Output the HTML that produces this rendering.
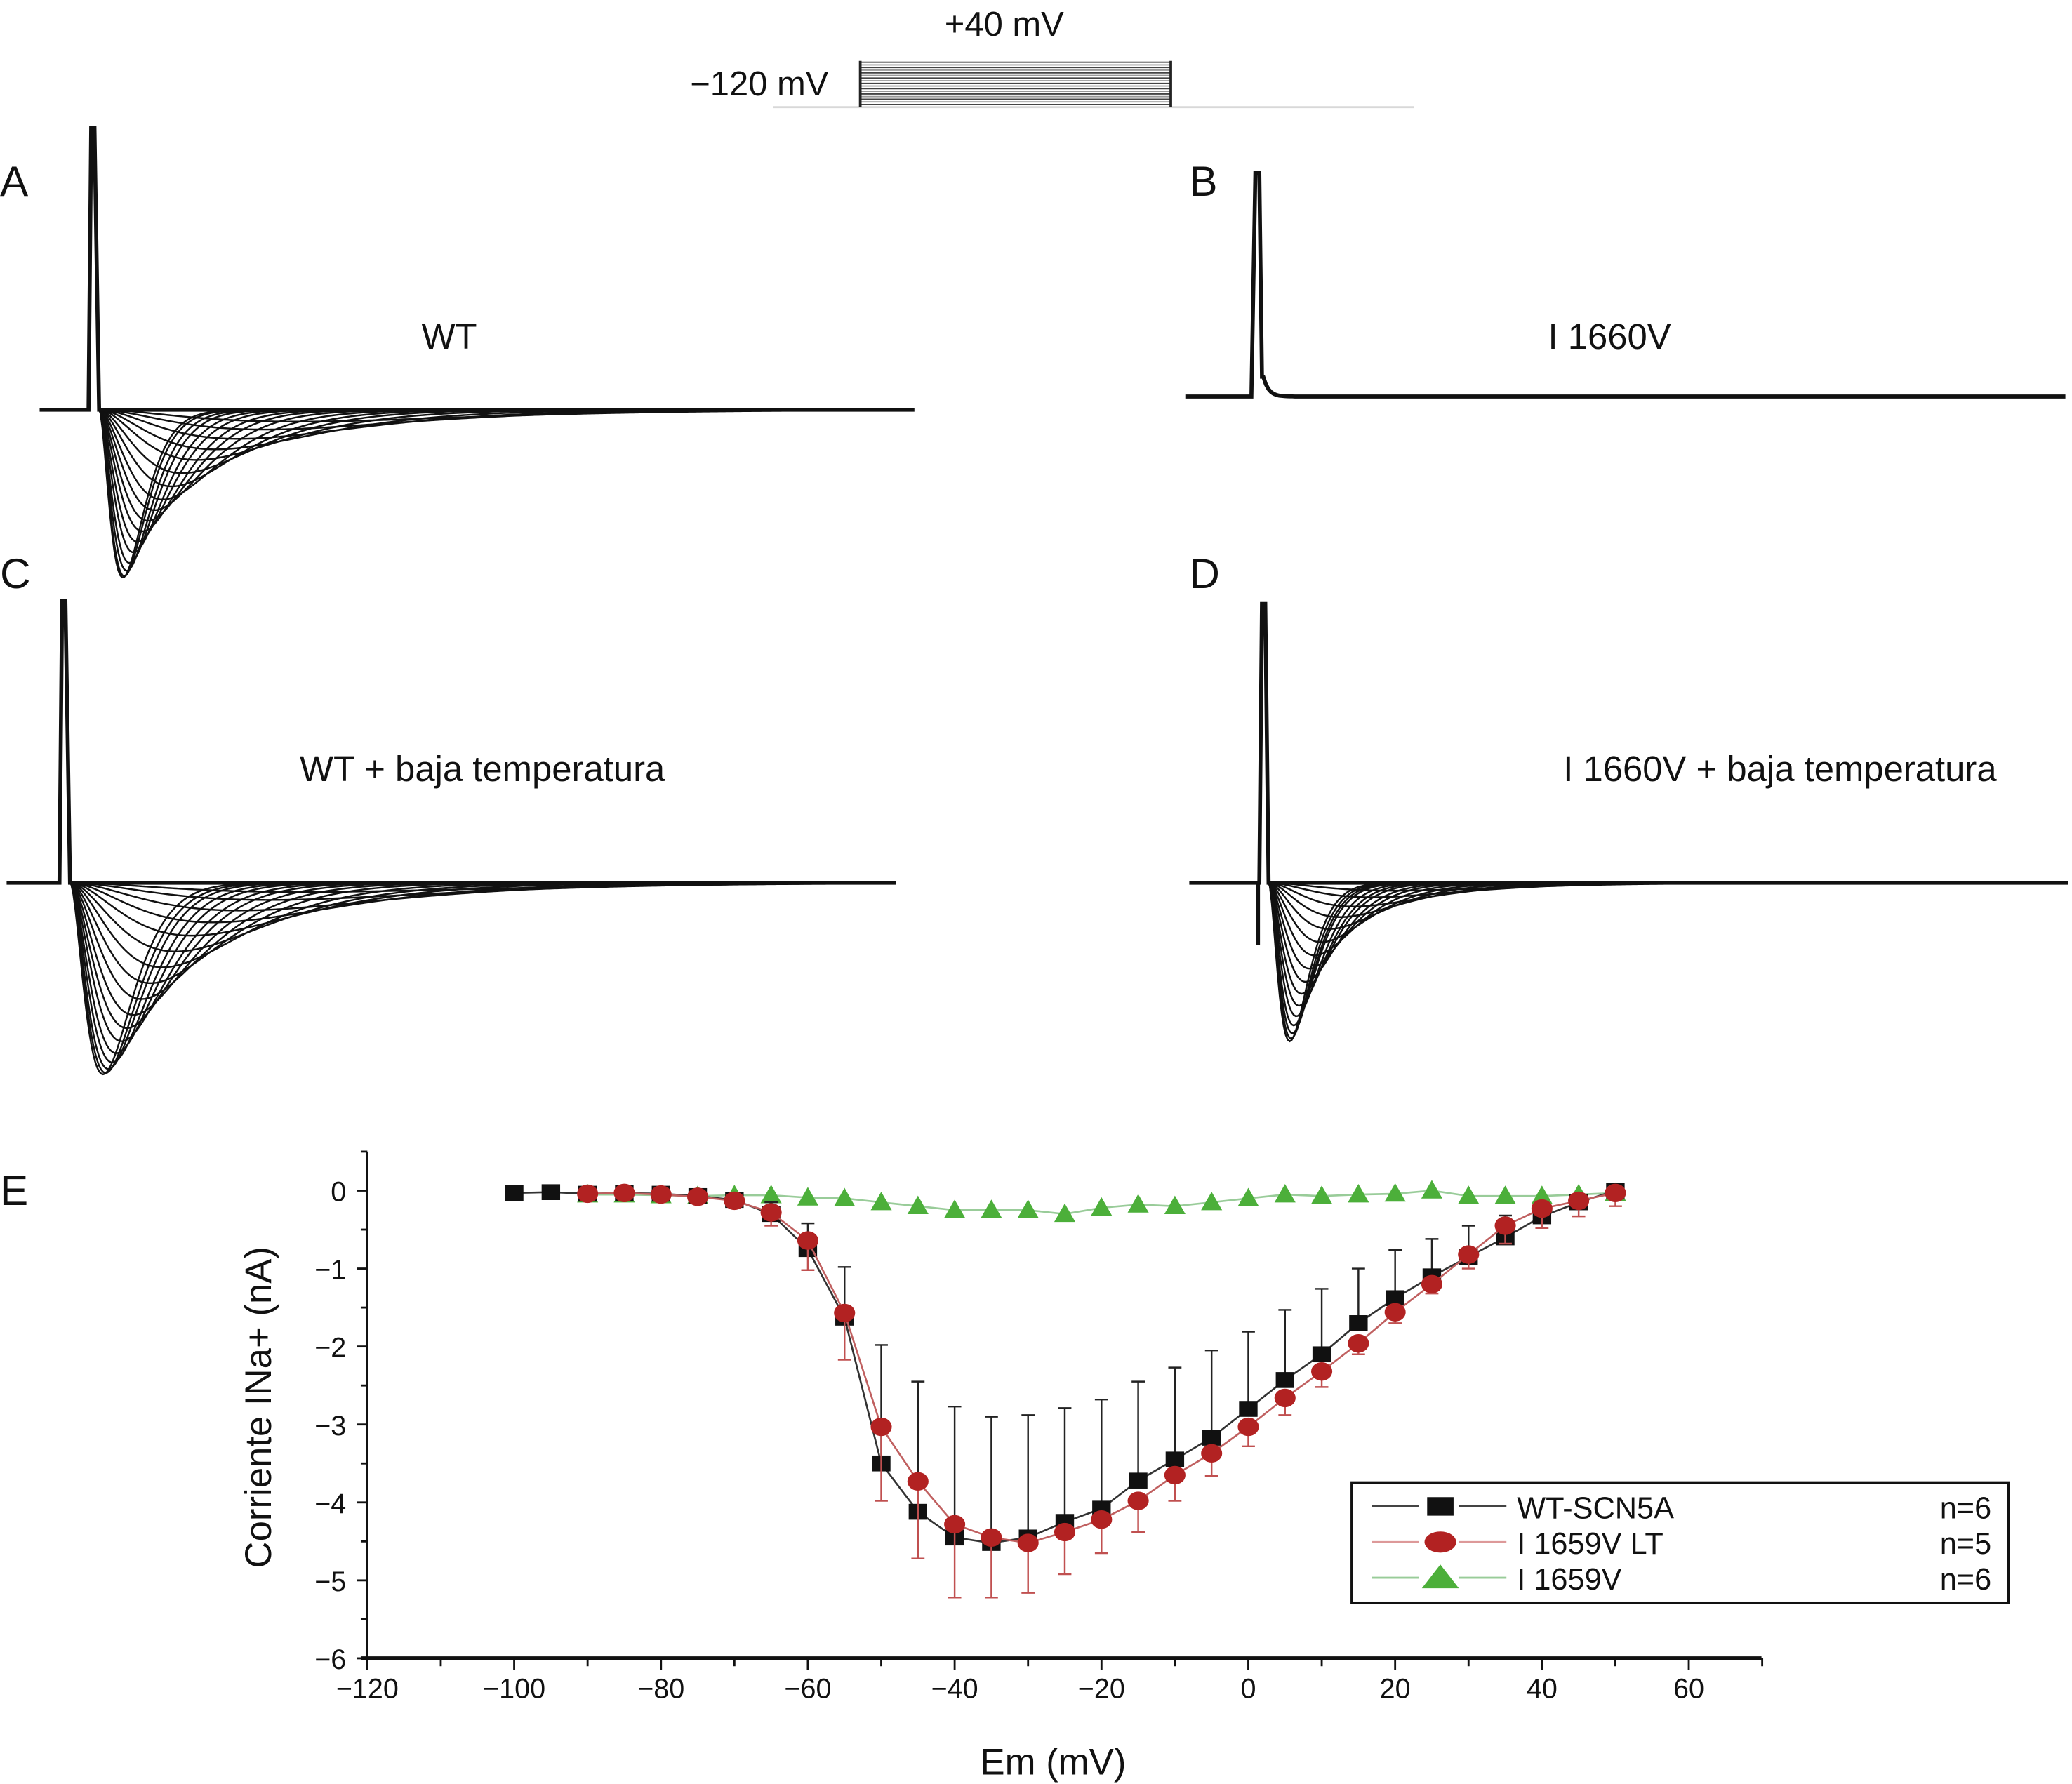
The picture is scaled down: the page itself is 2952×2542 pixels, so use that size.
<!DOCTYPE html>
<html><head><meta charset="utf-8"><style>
html,body{margin:0;padding:0;background:#fff;}
svg{display:block;}
text{font-family:"Liberation Sans",sans-serif;fill:#111;}
</style></head><body>
<svg id="fig" width="2952" height="2542" viewBox="0 0 1568 1350" xmlns="http://www.w3.org/2000/svg">
<rect width="1568" height="1350" fill="#fff"/>
<g id="protocol"></g>
<text x="760" y="27" font-size="26" text-anchor="middle">+40 mV</text>
<text x="627" y="72" font-size="26" text-anchor="end">−120 mV</text>
<g id="traces"></g>
<text x="0" y="148" font-size="32">A</text>
<text x="900" y="148" font-size="32">B</text>
<text x="0" y="445" font-size="32">C</text>
<text x="900" y="445" font-size="32">D</text>
<text x="0" y="912" font-size="32">E</text>
<text x="340" y="264" font-size="27" text-anchor="middle">WT</text>
<text x="1218" y="264" font-size="27" text-anchor="middle">I 1660V</text>
<text x="365" y="591" font-size="27" text-anchor="middle">WT + baja temperatura</text>
<text x="1347" y="591" font-size="27" text-anchor="middle">I 1660V + baja temperatura</text>
<g id="chartE"></g>
</svg>
<script>
// ---- IV curve data (panel E) ----
const voltagesWT = [-100,-95,-90,-85,-80,-75,-70,-65,-60,-55,-50,-45,-40,-35,-30,-25,-20,-15,-10,-5,0,5,10,15,20,25,30,35,40,45,50];
const currentWT = [-0.03,-0.02,-0.04,-0.03,-0.04,-0.07,-0.12,-0.3,-0.75,-1.63,-3.5,-4.12,-4.45,-4.52,-4.45,-4.25,-4.08,-3.72,-3.45,-3.17,-2.8,-2.43,-2.1,-1.7,-1.38,-1.1,-0.85,-0.6,-0.33,-0.15,0.0];
const errWT = [0,0,0,0,0,0,0.03,0.15,0.33,0.65,1.52,1.67,1.68,1.62,1.57,1.46,1.4,1.27,1.18,1.12,0.99,0.9,0.84,0.7,0.62,0.48,0.4,0.28,0.15,0.05,0];
const voltagesLT = [-90,-85,-80,-75,-70,-65,-60,-55,-50,-45,-40,-35,-30,-25,-20,-15,-10,-5,0,5,10,15,20,25,30,35,40,45,50];
const currentLT = [-0.04,-0.03,-0.05,-0.08,-0.13,-0.28,-0.64,-1.57,-3.03,-3.73,-4.28,-4.45,-4.52,-4.38,-4.22,-3.98,-3.65,-3.37,-3.03,-2.66,-2.32,-1.96,-1.56,-1.2,-0.82,-0.45,-0.23,-0.13,-0.03];
const errLT = [0.02,0.02,0.03,0.04,0.06,0.17,0.38,0.6,0.95,0.99,0.94,0.77,0.64,0.54,0.43,0.4,0.33,0.29,0.25,0.22,0.2,0.14,0.14,0.12,0.18,0.23,0.25,0.2,0.17];
const voltagesMut = [-90,-85,-80,-75,-70,-65,-60,-55,-50,-45,-40,-35,-30,-25,-20,-15,-10,-5,0,5,10,15,20,25,30,35,40,45,50];
const currentMut = [-0.05,-0.05,-0.06,-0.07,-0.06,-0.06,-0.09,-0.1,-0.15,-0.2,-0.25,-0.25,-0.25,-0.3,-0.22,-0.18,-0.2,-0.15,-0.1,-0.05,-0.07,-0.05,-0.04,0.0,-0.07,-0.07,-0.07,-0.05,-0.03];
const xTicks = [-120,-100,-80,-60,-40,-20,0,20,40,60];
const yTicks = [0,-1,-2,-3,-4,-5,-6];
const yTickLabels = ["0","−1","−2","−3","−4","−5","−6"];
const legendLabels = ["WT-SCN5A","I 1659V LT","I 1659V"];
const legendN = ["n=6","n=5","n=6"];

// ---- trace families (peak depth, time to peak) ----
const depthA = [127,126,122,116,108,100,92,84,76,68,58,48,38,30,22,15,9];
const tpeakA = [18,19,21,23,26,29,33,37,42,48,55,63,74,88,105,125,150];
const depthC = [145,144,141,136,129,120,110,100,88,76,64,52,40,30,21,13,7];
const tpeakC = [25,27,29,32,35,39,43,48,54,61,70,80,92,108,128,150,175];
const depthD = [120,118,114,108,101,93,84,75,65,55,45,35,26,18,11,6];
const tpeakD = [16,17,18,19,21,23,25,28,31,35,40,46,54,64,78,95];

const NS='http://www.w3.org/2000/svg';
function mk(tag, attrs, parent){const e=document.createElementNS(NS,tag);for(const k in attrs)e.setAttribute(k,attrs[k]);parent.appendChild(e);return e;}

// protocol
const P=document.getElementById('protocol');
const pl=mk('line',{x1:585,y1:81,x2:1070,y2:81,stroke:'#d8d8d8','stroke-width':1.5},P);


for(let i=0;i<17;i++){
  const y=47+i*2;
  const l=mk('line',{x1:651,y1:y,x2:886,y2:y,stroke:i%2?'#999':'#444','stroke-width':1},P);
  
  
}
mk('line',{x1:651,y1:46,x2:651,y2:81,stroke:'#222','stroke-width':2},P);
mk('line',{x1:886,y1:46,x2:886,y2:81,stroke:'#222','stroke-width':2},P);

// traces
const T=document.getElementById('traces');
function family(name,x0,x1,base,spikeX,spikeTop,onset,depths,tps,neg){
  const g=mk('g',{},T);
  
  
  let d=`M${x0},${base} L${spikeX-3},${base} L${spikeX-1},${spikeTop} L${spikeX+1.5},${spikeTop} L${onset},${base} L${x1},${base}`;
  if(neg) d+=` M${spikeX-4},${base} L${spikeX-4},${neg}`;
  const p=mk('path',{d:d,fill:'none',stroke:'#111','stroke-width':3},g);
  
  
  for(let i=0;i<depths.length;i++){
    const A=depths[i],tp=tps[i];
    let s=`M${onset},${base}`;
    for(let t=1;t<=x1-onset;t+=1.5){
      const r=t/tp; const v=A*r*r*Math.exp(2*(1-r));
      s+=` L${(onset+t).toFixed(1)},${(base+v).toFixed(2)}`;
    }
    const c=mk('path',{d:s,fill:'none',stroke:'#111','stroke-width':1.3},g);
    
    
  }
}
family('panel-a-traces',30,692,310,70,97,75,depthA,tpeakA,null);
family('panel-c-traces',5,678,668,48,455,53,depthC,tpeakC,null);
family('panel-d-traces',900,1565,668,956,457,960,depthD,tpeakD,715);
// panel B
(function(){
  const g=mk('g',{},T);
  
  
  let s='M897,300 L947,300 L950,131 L953,131 L955,285';
  for(let t=0;t<=30;t+=2){s+=` L${956+t},${(300-15*Math.exp(-t/4)).toFixed(1)}`;}
  s+=' L1563,300';
  mk('path',{d:s,fill:'none',stroke:'#111','stroke-width':3},g);
})();

// ---- chart E ----
const E=document.getElementById('chartE');
const X0=278,X1=1333,Y0=1255,Ytop=872;
function xs(v){return 278+(v+120)*(1000/180);}
function ys(v){return 901-v*59;}
const ya=mk('line',{x1:X0,y1:Ytop,x2:X0,y2:Y0,stroke:'#111','stroke-width':1.5},E);


const xa=mk('line',{x1:X0-5,y1:Y0,x2:X1,y2:Y0,stroke:'#111','stroke-width':3},E);


for(let v=0.5;v>=-6;v-=0.5){
  const major=Math.abs(v-Math.round(v))<1e-6;
  mk('line',{x1:X0-(major?8:5),y1:ys(v),x2:X0,y2:ys(v),stroke:'#111','stroke-width':1.5},E);
}
yTicks.forEach((v,i)=>{
  const t=mk('text',{x:X0-16,y:ys(v)+8,'font-size':21,'text-anchor':'end'},E);
  t.textContent=yTickLabels[i];
  
  
});
for(let v=-120;v<=70;v+=10){
  const major=v%20===0;
  mk('line',{x1:xs(v),y1:Y0,x2:xs(v),y2:Y0+(major?9:6),stroke:'#111','stroke-width':1.5},E);
}
xTicks.forEach(v=>{
  const t=mk('text',{x:xs(v),y:Y0+30,'font-size':21,'text-anchor':'middle'},E);
  t.textContent=v<0?'−'+(-v):String(v);
  
  
});
const yt=mk('text',{x:0,y:0,'font-size':28,'text-anchor':'middle',transform:'translate(205,1065) rotate(-90)'},E);
yt.textContent='Corriente INa+ (nA)';


const xt=mk('text',{x:797,y:1343,'font-size':28,'text-anchor':'middle'},E);
xt.textContent='Em (mV)';



function series(name,vx,vy,err,dir,color,lineColor,marker){
  const g=mk('g',{},E);
  
  
  if(err){
    vx.forEach((v,i)=>{
      if(err[i]<=0.02)return;
      const y1=ys(vy[i]),y2=ys(vy[i]+dir*err[i]);
      mk('line',{x1:xs(v),y1:y1,x2:xs(v),y2:y2,stroke:color,'stroke-width':1.3},g);
      const c=mk('line',{x1:xs(v)-5,y1:y2,x2:xs(v)+5,y2:y2,stroke:color,'stroke-width':1.3},g);
      
      
    });
  }
  const pts=vx.map((v,i)=>xs(v).toFixed(1)+','+ys(vy[i]).toFixed(1)).join(' ');
  mk('polyline',{points:pts,fill:'none',stroke:lineColor,'stroke-width':1.4},g);
  vx.forEach((v,i)=>{
    const x=xs(v),y=ys(vy[i]);let m;
    if(marker==='sq')m=mk('rect',{x:x-7,y:y-6,width:14,height:12,fill:'#111'},g);
    else if(marker==='ci')m=mk('ellipse',{cx:x,cy:y,rx:8,ry:7,fill:'#b22222'},g);
    else m=mk('polygon',{points:`${x-8},${y+6} ${x+8},${y+6} ${x},${y-8}`,fill:'#4caf3a'},g);
    
    
  });
}
series('series-i1659v',voltagesMut,currentMut,null,0,'#8c8','#9c9','tri');
series('series-wt-scn5a',voltagesWT,currentWT,errWT,1,'#222','#333','sq');
series('series-i1659v-lt',voltagesLT,currentLT,errLT,-1,'#c05050','#c06060','ci');

// legend
const L=mk('g',{},E);


mk('rect',{x:1023,y:1122,width:497,height:91,fill:'#fff',stroke:'#111','stroke-width':2},L);
const lc=['#444','#d99','#9c9'];
legendLabels.forEach((lab,i)=>{
  const y=1140+i*27;
  const e=mk('g',{},L);
  
  
  mk('line',{x1:1038,y1:y,x2:1074,y2:y,stroke:lc[i],'stroke-width':1.5},e);
  mk('line',{x1:1104,y1:y,x2:1140,y2:y,stroke:lc[i],'stroke-width':1.5},e);
  if(i===0)mk('rect',{x:1080,y:y-7,width:20,height:14,fill:'#111'},e);
  else if(i===1)mk('ellipse',{cx:1090,cy:y,rx:12,ry:8,fill:'#b22222'},e);
  else mk('polygon',{points:`1076,${y+8} 1104,${y+8} 1090,${y-10}`,fill:'#4caf3a'},e);
  const t=mk('text',{x:1148,y:y+9,'font-size':23},e);t.textContent=lab;
  const n=mk('text',{x:1507,y:y+9,'font-size':23,'text-anchor':'end'},e);n.textContent=legendN[i];
});
</script>
</body></html>
